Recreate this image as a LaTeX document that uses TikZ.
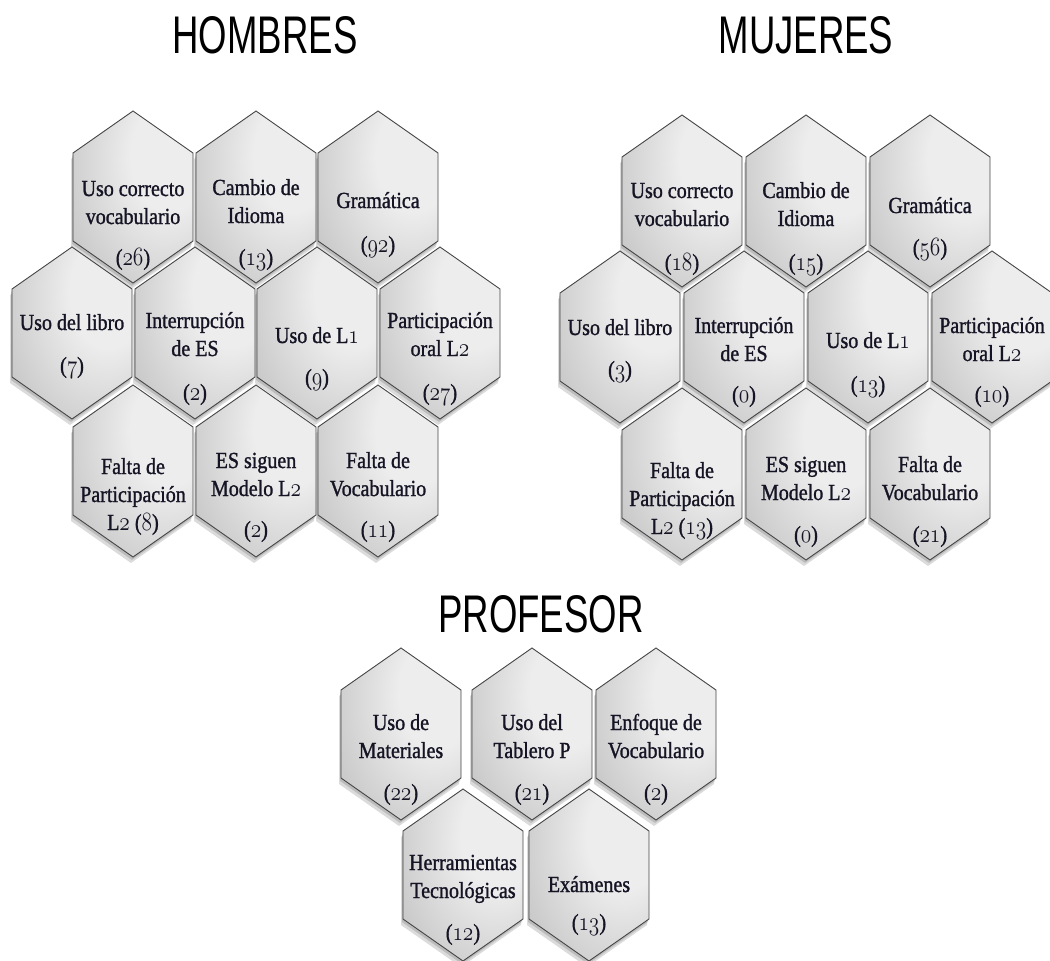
\documentclass[tikz,border=0pt]{standalone}
\usepackage{fontspec}
\newfontfamily\titlefont{Liberation Sans}[FakeStretch=0.69]
\newfontfamily\hexfont{Liberation Serif}[FakeStretch=0.87, FakeBold=1.2]
% old-style digits taken from the Latin Modern bold math italic font, narrowed a little
\newcommand\osn[1]{\scalebox{0.86}[1.06]{\fontencoding{OML}\fontfamily{lmm}\fontseries{b}\fontshape{it}\selectfont #1}}

\definecolor{hexhi}{HTML}{EDEDED}
\definecolor{hexmid}{HTML}{C8C8C8}
\definecolor{hexlo}{HTML}{9A9A9A}
\definecolor{hexline}{HTML}{454545}
\definecolor{inkc}{HTML}{141424}

\pgfdeclareradialshading{hexshade}{\pgfpoint{18bp}{14bp}}{%
  color(0bp)=(hexhi); color(16bp)=(hexhi); color(42bp)=(hexmid);
  color(62bp)=(hexlo); color(100bp)=(hexlo)}

\tikzset{
  hexbody/.style={draw=hexline, line width=0.9pt, shading=hexshade},
  hexshadow/.style={fill=black, fill opacity=0.14},
  hexlabel/.style={anchor=base, align=center, inner sep=0pt, text=inkc,
    font=\hexfont\fontsize{23}{28}\selectfont},
  hexcount/.style={anchor=base, inner sep=0pt, text=inkc,
    font=\hexfont\fontsize{23}{28}\selectfont},
  groupttl/.style={anchor=base, inner sep=0pt,
    font=\titlefont\fontsize{53}{60}\selectfont}
}

% one honeycomb cell, centred on the origin
\def\hexshape{(0,-86) -- (60,-44) -- (60,44) -- (0,86) -- (-60,44) -- (-60,-44) -- cycle}

% #1 name, #2 x, #3 y, #4 label, #5 baseline offset of its last line,
% #6 count, #7 count baseline offset
\newcommand\hexcell[7]{%
  \begin{scope}[shift={(#2,#3)}]
    \fill[hexshadow, xshift=-2pt, yshift=-6pt] \hexshape;
    \fill[hexshadow, xshift=-1pt, yshift=-3pt] \hexshape;
    \path[hexbody] \hexshape;
    \node[hexlabel] (#1) at (0,#5) {#4};
    \node[hexcount] (#1n) at (0,#7) {(#6)};
  \end{scope}}
% cell whose count is part of the label
\newcommand\hexcellplain[5]{%
  \begin{scope}[shift={(#2,#3)}]
    \fill[hexshadow, xshift=-2pt, yshift=-6pt] \hexshape;
    \fill[hexshadow, xshift=-1pt, yshift=-3pt] \hexshape;
    \path[hexbody] \hexshape;
    \node[hexlabel] (#1) at (0,#5) {#4};
  \end{scope}}

\begin{document}
\begin{tikzpicture}[x=1pt, y=-1pt]
\useasboundingbox (0,0) rectangle (1050,961);

% titles
\node[groupttl] (thombres) at (265,53) {HOMBRES};
\node[groupttl] (tmujeres) at (806,53) {MUJERES};
\node[groupttl] (tprofesor) at (541,632) {PROFESOR};

% HOMBRES
\hexcell{h1}{133}{197}{Uso correcto\\vocabulario}{27}{\osn{26}}{68}
\hexcell{h2}{256}{197}{Cambio de\\Idioma}{26}{\osn{13}}{68}
\hexcell{h3}{378}{197}{Gramática}{11}{\osn{92}}{55}
\hexcell{h4}{72}{333}{Uso del libro}{-3}{\osn{7}}{40}
\hexcell{h5}{195}{333}{Interrupción\\de ES}{23}{\osn{2}}{67}
\hexcell{h6}{317}{333}{Uso de L\osn{1}}{10}{\osn{9}}{52}
\hexcell{h7}{440}{333}{Participación\\oral L\osn{2}}{23}{\osn{27}}{67}
\hexcellplain{h8}{133}{471}{Falta de\\Participación\\L\osn{2} (\osn{8})}{59}
\hexcell{h9}{256}{471}{ES siguen\\Modelo L\osn{2}}{25}{\osn{2}}{66}
\hexcell{h10}{378}{471}{Falta de\\Vocabulario}{25}{\osn{11}}{66}

% MUJERES
\hexcell{m1}{682}{201}{Uso correcto\\vocabulario}{25}{\osn{18}}{69}
\hexcell{m2}{806}{201}{Cambio de\\Idioma}{25}{\osn{15}}{69}
\hexcell{m3}{930}{201}{Gramática}{12}{\osn{56}}{54}
\hexcell{m4}{620}{337}{Uso del libro}{-2}{\osn{3}}{40}
\hexcell{m5}{744}{337}{Interrupción\\de ES}{24}{\osn{0}}{65}
\hexcell{m6}{868}{337}{Uso de L\osn{1}}{11}{\osn{13}}{55}
\hexcell{m7}{992}{337}{Participación\\oral L\osn{2}}{24}{\osn{10}}{65}
\hexcellplain{m8}{682}{474}{Falta de\\Participación\\L\osn{2} (\osn{13})}{60}
\hexcell{m9}{806}{474}{ES siguen\\Modelo L\osn{2}}{26}{\osn{0}}{68}
\hexcell{m10}{930}{474}{Falta de\\Vocabulario}{26}{\osn{21}}{68}

% PROFESOR
\hexcell{p1}{401}{734}{Uso de\\Materiales}{24}{\osn{22}}{66}
\hexcell{p2}{532}{734}{Uso del\\Tablero P}{24}{\osn{21}}{66}
\hexcell{p3}{656}{734}{Enfoque de\\Vocabulario}{24}{\osn{2}}{66}
\hexcell{p4}{463}{875}{Herramientas\\Tecnológicas}{23}{\osn{12}}{65}
\hexcell{p5}{589}{875}{Exámenes}{17}{\osn{13}}{55}
\end{tikzpicture}
\end{document}
